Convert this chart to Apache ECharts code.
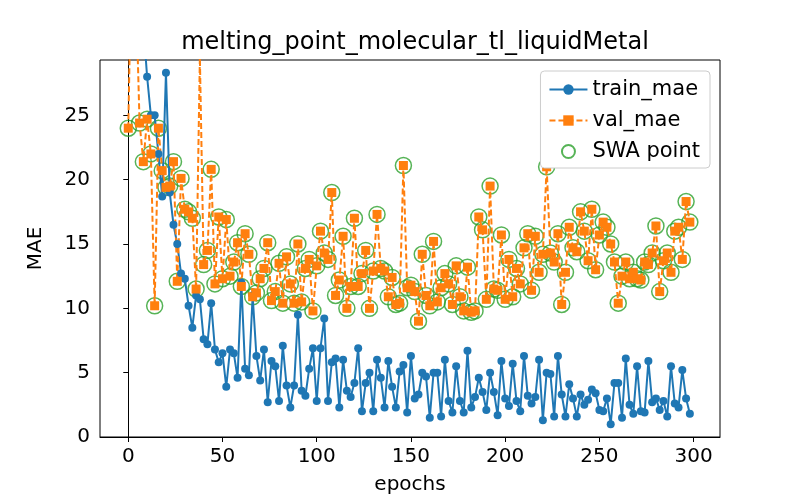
<!DOCTYPE html>
<html><head><meta charset="utf-8">
<script src="https://cdn.jsdelivr.net/npm/echarts@6/dist/echarts.min.js"></script>
<style>html,body{margin:0;padding:0;background:#fff}#c{width:800px;height:500px}</style>
</head><body><div id="c"></div>
<script>
const epochs = Array.from({length:150},(_,i)=>i*2);
const trainMae = [60,50,42,36,32,28,25,25,22,18.7,28.3,19,16.5,15,12.7,12.3,10.2,8.5,11,10.7,7.6,7.2,10.4,6.8,5.8,6.5,3.9,6.8,6.5,4.6,12,5.3,4.8,11,6.3,4.4,6.8,2.7,5.9,5.5,2.8,7.1,4,2.3,4.0,
9.5,3.6,3.2,5.3,6.9,2.8,6.9,9.2,2.8,5.8,6.1,2.3,6.0,3.6,3.1,4.2,6.9,2.0,4.2,5.0,2.0,6.0,4.6,2.3,5.9,3.9,2.3,5.1,5.6,1.9,6.3,3.0,3.3,5.0,4.7,1.5,5.0,5.0,1.6,6.0,2.8,1.9,5.5,2.8,1.9,6.7,2.3,3.1,4.6,3.5,2.1,5.0,3.5,
1.7,5.9,3.0,2.4,5.7,2.8,2.0,6.3,3.2,2.6,3.1,6.0,1.3,5.0,4.9,1.6,6.3,3.3,1.6,4.1,3.0,1.6,3.3,2.5,2.9,3.7,3.4,2.1,2.0,3.0,1.0,4.2,4.2,1.5,6.1,2.5,1.8,5.5,2.0,1.9,5.9,2.7,3.0,2.1,2.8,1.6,5.5,2.6,2.3,5.2,3.0,1.8];
const valMae = [24.0,40,35,24.4,21.4,24.7,22.0,10.2,24.0,20.7,19.4,19.5,21.4,12.1,20.1,17.7,17.5,17.0,11.5,29.5,13.4,14.5,20.8,11.9,17.1,12.3,16.9,12.5,13.6,15.1,11.7,15.8,14.2,10.9,11.2,12.3,13.1,15.1,10.6,11.3,13.5,10.4,14.0,11.9,10.4,
15.0,10.5,13.1,13.8,9.8,13.3,16.0,14.3,13.8,19.0,11.0,12.2,15.6,10.0,11.7,17.0,11.7,12.7,14.5,10.0,12.9,17.3,13.1,12.9,10.9,12.4,10.3,10.4,21.1,11.6,11.8,11.3,9.0,14.2,11.0,10.2,15.2,10.5,11.6,12.7,11.9,10.3,13.3,10.9,9.8,13.2,9.7,9.8,17.1,16.1,10.7,19.5,11.5,
11.4,15.7,10.7,13.8,10.9,13.1,11.9,14.7,15.8,11.4,15.6,12.8,14.2,21.0,14.3,13.6,15.8,10.3,12.8,16.3,14.7,14.4,17.5,16.0,13.7,17.7,13.0,15.7,16.7,16.3,15.0,13.6,10.4,12.5,13.6,12.3,12.8,12.3,12.2,13.6,13.4,14.3,16.4,11.3,13.7,14.3,12.8,16.0,16.3,13.8,18.3,16.7];
const xTicks = [0,50,100,150,200,250,300];
const yTicks = [0,5,10,15,20,25];

const pair = a => a.map((v,i)=>[epochs[i],v]);
const font = 'DejaVu Sans';
const chart = echarts.init(document.getElementById('c'));
chart.setOption({
  animation:false,
  textStyle:{fontFamily:font},
  title:{text:'melting_point_molecular_tl_liquidMetal',left:410,top:26,textAlign:'center',textStyle:{fontSize:24,fontWeight:'normal',color:'#000',fontFamily:font}},
  grid:{left:100,right:80,top:60,bottom:55,show:true,borderColor:'#000',borderWidth:1,backgroundColor:'transparent'},
  xAxis:{type:'value',min:-15,max:314,name:'epochs',nameLocation:'middle',nameGap:38,nameTextStyle:{fontSize:20,color:'#000'},
    axisLine:{onZero:false,lineStyle:{color:'#000'}},splitLine:{show:false},
    axisTick:{customValues:xTicks,length:5,lineStyle:{color:'#000'}},
    axisLabel:{customValues:xTicks,fontSize:20,color:'#000',margin:10}},
  yAxis:{type:'value',min:0,max:29.3,name:'MAE',nameLocation:'middle',nameGap:54,nameTextStyle:{fontSize:20,color:'#000'},
    axisLine:{show:true,lineStyle:{color:'#000'}},splitLine:{show:false},
    axisTick:{show:true,customValues:yTicks,length:5,lineStyle:{color:'#000'}},
    axisLabel:{customValues:yTicks,fontSize:20,color:'#000',margin:10}},
  legend:{right:90,top:71,orient:'vertical',itemGap:10,itemWidth:38,itemHeight:13,
    backgroundColor:'#fff',borderColor:'#ccc',borderWidth:1,borderRadius:4,padding:[8,10,6,8],
    textStyle:{fontSize:21,color:'#000'},
    data:['train_mae','val_mae','SWA point']},
  series:[
    {name:'train_mae',type:'line',data:pair(trainMae),symbol:'circle',symbolSize:8,
      lineStyle:{color:'#1f77b4',width:2},itemStyle:{color:'#1f77b4'}},
    {name:'val_mae',type:'line',data:pair(valMae),symbol:'rect',symbolSize:9,
      lineStyle:{color:'#ff7f0e',width:2,type:[6,3]},itemStyle:{color:'#ff7f0e'}},
    {name:'SWA point',type:'scatter',data:pair(valMae).filter(p=>p[1]<=29.3),symbol:'circle',symbolSize:16,
      itemStyle:{color:'rgba(0,0,0,0)',borderColor:'#2ca02c',borderWidth:1.5}}
  ]
});
</script></body></html>
